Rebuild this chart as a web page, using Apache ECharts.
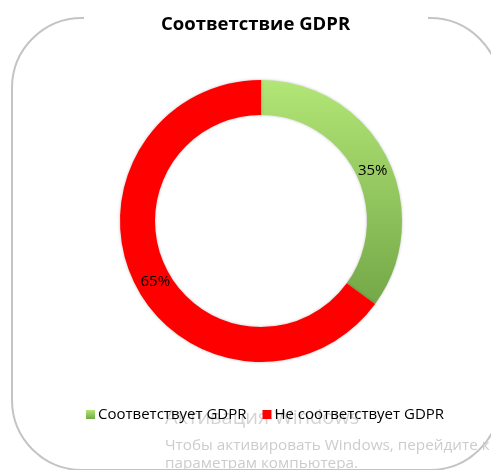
<!DOCTYPE html>
<html>
<head>
<meta charset="utf-8">
<script src="https://cdn.jsdelivr.net/npm/echarts@6/dist/echarts.min.js"></script>
<style>
  html, body { margin: 0; padding: 0; background: #fff; }
  #chart { width: 491px; height: 470px; }
</style>
</head>
<body>
<div id="chart"></div>
<script>
// GDPR compliance share
const categories = ['Соответствует GDPR', 'Не соответствует GDPR'];
const shares = [35, 65];
const titleText = 'Соответствие GDPR';
const noticeLines = ['Активация Windows', 'Чтобы активировать Windows, перейдите к', 'параметрам компьютера.'];

const FONT = '"Open Sans", "Noto Sans", sans-serif';

const greenFill = {
  type: 'linear', x: 0, y: 0, x2: 0, y2: 1,
  colorStops: [{ offset: 0, color: '#b2e676' }, { offset: 1, color: '#74a848' }]
};
const colors = [greenFill, '#ff0000'];
const labelShift = [[-1, 7], [7, 3]];

const chart = echarts.init(document.getElementById('chart'), null, { renderer: 'canvas' });

chart.setOption({
  backgroundColor: '#ffffff',
  animation: false,
  title: {
    text: titleText,
    left: 156,
    top: 10,
    textStyle: { fontFamily: FONT, fontSize: 18.5, fontWeight: 'bold', color: '#000' }
  },
  legend: {
    data: categories,
    left: 81,
    top: 402,
    icon: 'rect',
    itemWidth: 9,
    itemHeight: 9,
    itemGap: 16,
    textStyle: { fontFamily: FONT, fontSize: 15, color: '#000', padding: [0, 0, 0, -2] }
  },
  graphic: [
    {
      type: 'rect', z: -10, silent: true,
      shape: { x: 12, y: 18, width: 488, height: 452, r: 70 },
      style: { fill: 'none', stroke: '#c4c4c4', lineWidth: 2 }
    },
    {
      type: 'rect', z: -9, silent: true,
      shape: { x: 84, y: 10, width: 344, height: 16 },
      style: { fill: '#ffffff' }
    },
    {
      type: 'text', z: -8, silent: true, left: 165, top: 408,
      style: { text: noticeLines[0], fontFamily: FONT, fontSize: 20, fill: '#d4d4d4' }
    },
    {
      type: 'text', z: -8, silent: true, left: 165, top: 438,
      style: { text: noticeLines[1], fontFamily: FONT, fontSize: 15.3, fill: '#cccccc' }
    },
    {
      type: 'text', z: -8, silent: true, left: 165, top: 456,
      style: { text: noticeLines[2], fontFamily: FONT, fontSize: 15.3, fill: '#cccccc' }
    }
  ],
  series: [{
    type: 'pie',
    center: [261, 221],
    radius: [106, 141],
    startAngle: 90,
    clockwise: true,
    label: {
      show: true,
      position: 'inside',
      formatter: '{c}%',
      fontFamily: FONT,
      fontSize: 15,
      color: '#000'
    },
    labelLine: { show: false },
    itemStyle: { shadowBlur: 3, shadowColor: 'rgba(0,0,0,0.25)' },
    emphasis: { disabled: true },
    data: categories.map((name, i) => ({
      name: name,
      value: shares[i],
      itemStyle: { color: colors[i] },
      label: { offset: labelShift[i] }
    }))
  }]
});
</script>
</body>
</html>
